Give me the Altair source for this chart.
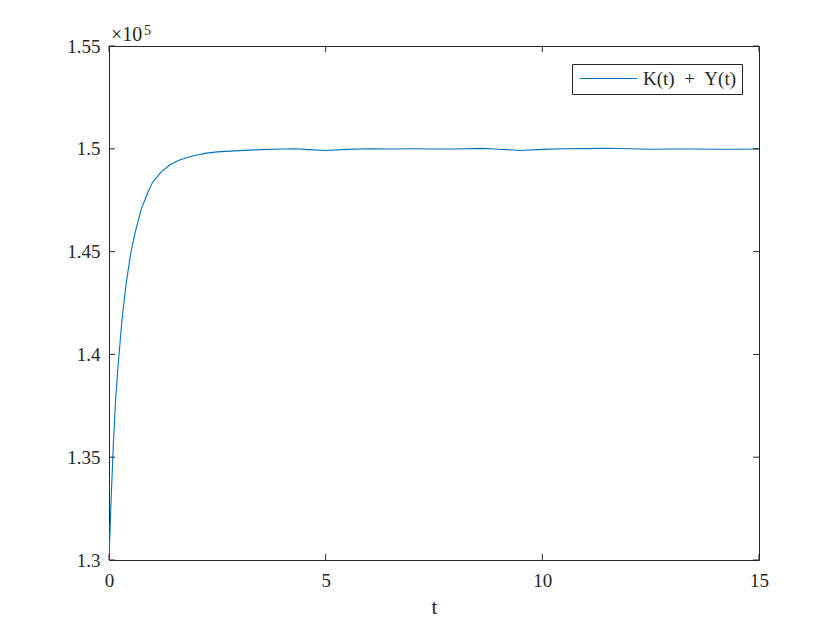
import altair as alt
import pandas as pd

t_vals = [0, 0.05, 0.1, 0.15, 0.2, 0.3, 0.4, 0.5, 0.6, 0.75, 0.9, 1.0, 1.2, 1.4, 1.6,
          1.8, 2.0, 2.25, 2.5, 3.0, 3.5, 4.0, 4.3, 4.6, 5.0, 5.5, 6.0, 6.5, 7.0, 7.5,
          8.0, 8.6, 9.0, 9.5, 10.0, 10.5, 11.0, 11.5, 12.0, 12.5, 13.0, 13.5, 14.0,
          14.5, 15.0]
ky_vals = [1.300, 1.330, 1.356, 1.377, 1.392, 1.417, 1.435, 1.449, 1.459, 1.471, 1.479,
           1.4835, 1.4887, 1.4921, 1.4943, 1.4958, 1.4969, 1.4979, 1.4985, 1.4991,
           1.4996, 1.4999, 1.5000, 1.4996, 1.4992, 1.4997, 1.5000, 1.4999, 1.5000,
           1.4999, 1.4999, 1.5002, 1.4998, 1.4992, 1.4997, 1.5000, 1.5001, 1.5003,
           1.5000, 1.4998, 1.4999, 1.4999, 1.4998, 1.4998, 1.4999]
series_name = "K(t)\u2002+\u2002Y(t)"
x_ticks = [0, 5, 10, 15]
y_ticks = [1.3, 1.35, 1.4, 1.45, 1.5, 1.55]

W, H = 650, 514
FONT = "Liberation Serif"
INK = "#262626"

df = pd.DataFrame({"t": t_vals, "v": ky_vals, "s": [series_name] * len(t_vals)})
xt = pd.DataFrame({"t": x_ticks})
yt = pd.DataFrame({"v": y_ticks})

xs = alt.Scale(domain=[0, 15], nice=False, zero=False)
ys = alt.Scale(domain=[1.3, 1.55], nice=False, zero=False)

line = alt.Chart(df).mark_line(strokeWidth=1.1, clip=True).encode(
    x=alt.X("t:Q", scale=xs,
            axis=alt.Axis(values=x_ticks, title="t", domain=False, ticks=False, grid=False,
                          labelFont=FONT, labelFontSize=19, labelColor=INK,
                          labelPadding=11, labelFlush=False,
                          titleFont=FONT, titleFontSize=21,
                          titleFontWeight="normal", titleColor=INK, titlePadding=6,
                          format="~g")),
    y=alt.Y("v:Q", scale=ys,
            axis=alt.Axis(values=y_ticks, title=None, domain=False, ticks=False, grid=False,
                          labelFont=FONT, labelFontSize=19, labelColor=INK,
                          labelPadding=9, labelFlush=False, format=".2~f")),
    color=alt.Color("s:N", scale=alt.Scale(range=["#0072BD"]),
                    legend=alt.Legend(title=None, orient="none", legendX=463, legendY=18,
                                      symbolType="M-4,0H4", symbolSize=210,
                                      symbolStrokeWidth=1.1, strokeColor=INK,
                                      fillColor="white", padding=5, cornerRadius=0,
                                      labelFont=FONT, labelFontSize=19,
                                      labelColor=INK, labelOffset=25,
                                      symbolOffset=22)),
)

TL = 6
xb = alt.Chart(xt).mark_rule(color=INK, strokeWidth=1).encode(
    x=alt.X("t:Q", scale=xs), y=alt.value(H), y2=alt.value(H - TL))
xtop = alt.Chart(xt).mark_rule(color=INK, strokeWidth=1).encode(
    x=alt.X("t:Q", scale=xs), y=alt.value(0), y2=alt.value(TL))
yl = alt.Chart(yt).mark_rule(color=INK, strokeWidth=1).encode(
    y=alt.Y("v:Q", scale=ys), x=alt.value(0), x2=alt.value(TL))
yr = alt.Chart(yt).mark_rule(color=INK, strokeWidth=1).encode(
    y=alt.Y("v:Q", scale=ys), x=alt.value(W), x2=alt.value(W - TL))

exp1 = alt.Chart(pd.DataFrame({"a": ["\u00d710"]})).mark_text(
    font=FONT, fontSize=20, color=INK, align="left", baseline="alphabetic").encode(
    text="a:N", x=alt.value(2), y=alt.value(-5))
exp2 = alt.Chart(pd.DataFrame({"a": ["5"]})).mark_text(
    font=FONT, fontSize=14, color=INK, align="left", baseline="alphabetic").encode(
    text="a:N", x=alt.value(35), y=alt.value(-11))

chart = alt.layer(line, xb, xtop, yl, yr, exp1, exp2).properties(
    width=W, height=H,
    background="white",
    autosize=alt.AutoSizeParams(type="none"),
    padding={"left": 101, "top": 38, "right": 65, "bottom": 62},
).configure_view(stroke=INK, strokeWidth=1)

chart.save("out.html", embed_options={"renderer": "svg", "actions": False})
